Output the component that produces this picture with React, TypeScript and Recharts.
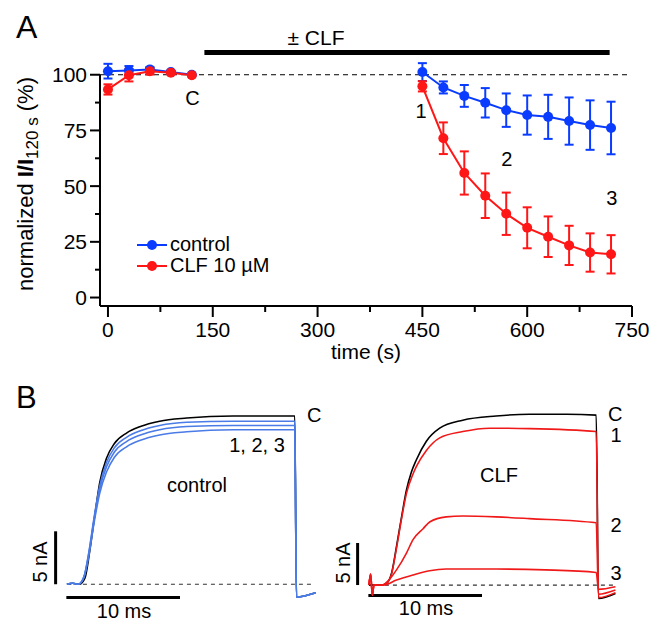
import { Legend, Line, LineChart, ReferenceDot, ReferenceLine, XAxis, YAxis, ErrorBar } from "recharts";

const FONT = "'Liberation Sans', Arial, Helvetica, sans-serif";
const BLUE = "#0a3cff";
const RED = "#ff1616";
const TRACE_BLUE = "#4a7be6";
const TRACE_RED = "#f01818";

// panel A: normalized current vs time (null row breaks the line between the two runs)
const seriesNames = ["control", "CLF 10 µM"];
const timeS = [0, 30, 60, 90, 120, 285, 450, 480, 510, 540, 570, 600, 630, 660, 690, 720];
const controlMean = [101.6, 101.9, 102.4, 101.2, 100, null, 101.2, 94.3, 90.5, 87.4, 84.1, 81.9, 81.1, 79.2, 77.4, 76.1];
const controlSem = [3.3, 2.0, 1.0, 0.6, 0, null, 4.0, 2.7, 4.9, 6.6, 7.5, 8.8, 9.9, 10.6, 11.1, 11.8];
const clfMean = [93.4, 99.8, 101.6, 100.9, 99.8, null, 94.8, 71.5, 55.9, 45.7, 37.6, 31.3, 27.3, 23.4, 20.2, 19.4];
const clfSem = [2.3, 2.8, 1.5, 0.6, 0, null, 2.3, 7.1, 9.7, 10.0, 9.5, 9.2, 9.1, 8.8, 8.6, 8.6];

const xTicks = [0, 75, 150, 225, 300, 375, 450, 525, 600, 675, 750];
const yTicks = [0, 12.5, 25, 37.5, 50, 62.5, 75, 87.5, 100];
const pointLabels = [
  { t: 121, v: 89.6, text: "C" },
  { t: 448, v: 83.7, text: "1" },
  { t: 571, v: 62.2, text: "2" },
  { t: 721, v: 44.9, text: "3" },
];

const rowsA = timeS.map((t, i) => ({
  t,
  control: controlMean[i],
  controlErr: controlSem[i],
  clf: clfMean[i],
  clfErr: clfSem[i],
}));

// panel B: current traces, [ms, nA]
const ctrlTraceC = [[0, 0], [0.5, 0.1], [1.1, 0], [1.6, 0.6], [2.0, 3.0], [2.45, 6.4], [2.9, 9.6], [3.5, 11.9], [4.2, 13.3], [5.3, 14.3], [6.5, 14.9], [8.2, 15.4], [10.6, 15.7], [14.7, 15.9], [20.15, 15.9], [20.3, -1.2], [22, -0.8]];
const ctrlTrace1 = [[0, 0], [0.5, 0.1], [1.0, 0], [1.5, 0.7], [1.95, 3.1], [2.4, 6.3], [2.9, 9.3], [3.5, 11.5], [4.2, 12.9], [5.3, 13.9], [6.5, 14.5], [8.2, 15.0], [10.6, 15.3], [14.7, 15.4], [20.15, 15.4], [20.3, -1.2], [22, -0.8]];
const ctrlTrace2 = [[0, 0], [0.5, 0.1], [1.0, 0], [1.5, 0.7], [1.95, 3.0], [2.4, 6.1], [2.9, 9.0], [3.5, 11.1], [4.2, 12.5], [5.3, 13.5], [6.5, 14.1], [8.2, 14.6], [10.6, 14.9], [14.7, 15.0], [20.15, 15.0], [20.3, -1.2], [22, -0.8]];
const ctrlTrace3 = [[0, 0], [0.5, 0.1], [1.0, 0], [1.5, 0.6], [1.95, 2.8], [2.4, 5.8], [2.9, 8.6], [3.5, 10.6], [4.2, 12.0], [5.3, 13.0], [6.5, 13.6], [8.2, 14.1], [10.6, 14.4], [14.7, 14.6], [20.15, 14.6], [20.3, -1.2], [22, -0.8]];

const clfTraceC = [[0, 0], [0.5, 0], [1.1, 0], [1.55, 0.2], [2.0, 1.4], [2.44, 4.6], [2.9, 8.2], [3.32, 11.3], [3.75, 13.4], [4.2, 14.9], [5.08, 17.1], [6.26, 18.65], [8.3, 19.6], [11.25, 20.1], [14.2, 20.3], [17.5, 20.3], [20.1, 20.2], [20.3, -1.6], [21.8, -1.0]];
const clfTrace1 = [[0, 0], [0.15, 1.3], [0.3, -1.2], [0.45, 0], [1.1, 0], [1.55, 0.2], [2.0, 1.3], [2.44, 4.4], [2.9, 8.0], [3.32, 10.9], [3.9, 13.2], [4.2, 14.1], [5.08, 16.0], [6.26, 17.5], [8.3, 18.25], [10.66, 18.65], [14.2, 18.6], [20.1, 18.25], [20.3, -1.5], [21.8, -0.9]];
const clfTrace2 = [[0, 0], [0.15, 1.3], [0.3, -1.2], [0.45, 0], [1.2, 0], [1.7, 0.5], [2.44, 1.8], [3.32, 3.8], [3.9, 5.4], [4.79, 6.7], [5.37, 7.5], [6.84, 8.1], [8.3, 8.2], [11.25, 8.1], [14.2, 7.9], [20.1, 7.4], [20.3, -1.1], [21.8, -0.6]];
const clfTrace3 = [[0, 0], [0.15, 1.3], [0.3, -1.2], [0.45, 0], [1.3, 0], [2.44, 0.6], [3.9, 1.2], [5.37, 1.7], [6.84, 1.9], [11.25, 1.9], [15.6, 1.8], [20.1, 1.5], [20.3, -0.5], [21.8, -0.2]];

const toPts = (arr: number[][]) => arr.map(([t, i]) => ({ t, i }));

function YTick(props: any) {
  const { x, y, payload } = props;
  const major = payload.value % 25 === 0;
  return (
    <g>
      <line x1={x - (major ? 10 : 5)} x2={x} y1={y} y2={y} stroke="#000" strokeWidth={2} />
      {major && (
        <text x={x - 13} y={y} dy="0.36em" textAnchor="end" fontSize={21} fontFamily={FONT} fill="#000">
          {payload.value}
        </text>
      )}
    </g>
  );
}

function XTick(props: any) {
  const { x, y, payload } = props;
  const major = payload.value % 150 === 0;
  return (
    <g>
      <line x1={x} x2={x} y1={y} y2={y + (major ? 11 : 6)} stroke="#000" strokeWidth={2} />
      {major && (
        <text x={x} y={y + 31} textAnchor="middle" fontSize={21} fontFamily={FONT} fill="#000">
          {payload.value}
        </text>
      )}
    </g>
  );
}

function LegendBox({ payload }: any) {
  const items = [...(payload || [])].sort((a: any, b: any) => seriesNames.indexOf(a.value) - seriesNames.indexOf(b.value));
  return (
    <div style={{ fontFamily: FONT, fontSize: 20, lineHeight: "21px", color: "#000" }}>
      {items.map((p: any) => (
        <div key={p.value} style={{ display: "flex", alignItems: "center", height: 21 }}>
          <svg width={32} height={12}>
            <line x1={1} x2={31} y1={6} y2={6} stroke={p.color} strokeWidth={2} />
            <circle cx={16} cy={6} r={5} fill={p.color} />
          </svg>
          <span style={{ marginLeft: 2 }}>{p.value}</span>
        </div>
      ))}
    </div>
  );
}

function TracePanel({ traces, yDomain, barY }: { traces: { data: number[][]; color: string }[]; yDomain: number[]; barY: number }) {
  return (
    <LineChart width={294} height={217} margin={{ top: 0, right: 0, bottom: 0, left: 0 }}>
      <XAxis type="number" dataKey="t" domain={[-3, 23]} hide />
      <YAxis type="number" domain={yDomain} hide />
      <ReferenceLine segment={[{ x: 0, y: 0 }, { x: 21.9, y: 0 }]} stroke="#333" strokeDasharray="4 4" strokeWidth={1.2} ifOverflow="visible" />
      <ReferenceLine segment={[{ x: -1, y: 0 }, { x: -1, y: 5 }]} stroke="#000" strokeWidth={3} ifOverflow="visible" />
      <ReferenceLine segment={[{ x: -0.05, y: barY }, { x: 10, y: barY }]} stroke="#000" strokeWidth={3} ifOverflow="visible" />
      {traces.map((tr, k) => (
        <Line
          key={k}
          data={toPts(tr.data)}
          dataKey="i"
          type="monotone"
          stroke={tr.color}
          strokeWidth={1.6}
          dot={false}
          isAnimationActive={false}
        />
      ))}
    </LineChart>
  );
}

export default function App() {
  return (
    <div style={{ position: "absolute", left: 0, top: 0, width: 652, height: 621, background: "#fff", fontFamily: FONT }}>
      <LineChart width={652} height={370} data={rowsA} margin={{ top: 48, right: 20, bottom: 8, left: 0 }}>
        <XAxis
          type="number"
          dataKey="t"
          domain={[-11.4, 750]}
          ticks={xTicks}
          interval={0}
          tickSize={0}
          tickMargin={0}
          tick={<XTick />}
          axisLine={{ stroke: "#000", strokeWidth: 2 }}
          height={56}
          label={{ value: "time (s)", position: "insideBottom", offset: 3, fontSize: 21, fill: "#000", fontFamily: FONT }}
        />
        <YAxis
          type="number"
          domain={[-3.8, 112]}
          ticks={yTicks}
          interval={0}
          tickSize={0}
          tickMargin={0}
          tick={<YTick />}
          axisLine={false}
          width={100}
        />
        <ReferenceLine segment={[{ x: -11.4, y: -3.8 }, { x: -11.4, y: 100 }]} stroke="#000" strokeWidth={2} ifOverflow="visible" />
        <ReferenceLine segment={[{ x: -11.4, y: 100 }, { x: 745, y: 100 }]} stroke="#000" strokeDasharray="5 4" strokeWidth={1} ifOverflow="visible" />
        <ReferenceLine segment={[{ x: 138, y: 110 }, { x: 718, y: 110 }]} stroke="#000" strokeWidth={5} ifOverflow="visible" />
        {pointLabels.map((p) => (
          <ReferenceDot
            key={p.text}
            x={p.t}
            y={p.v}
            r={0}
            fill="none"
            stroke="none"
            ifOverflow="visible"
            label={{ value: p.text, position: "center", fontSize: 20, fill: "#000", fontFamily: FONT }}
          />
        ))}
        <Legend
          layout="vertical"
          align="center"
          verticalAlign="middle"
          content={<LegendBox />}
          wrapperStyle={{ left: 136, top: 234, width: "auto", height: "auto" }}
        />
        <Line
          dataKey="control"
          name={seriesNames[0]}
          stroke={BLUE}
          strokeWidth={2}
          dot={{ r: 5, fill: BLUE, stroke: BLUE, strokeWidth: 0 }}
          isAnimationActive={false}
        >
          <ErrorBar dataKey="controlErr" direction="y" width={4.5} stroke={BLUE} strokeWidth={2} isAnimationActive={false} />
        </Line>
        <Line
          dataKey="clf"
          name={seriesNames[1]}
          stroke={RED}
          strokeWidth={2}
          dot={{ r: 5, fill: RED, stroke: RED, strokeWidth: 0 }}
          isAnimationActive={false}
        >
          <ErrorBar dataKey="clfErr" direction="y" width={4.5} stroke={RED} strokeWidth={2} isAnimationActive={false} />
        </Line>
      </LineChart>

      <div style={{ position: "absolute", left: 33, top: 399 }}>
        <TracePanel
          yDomain={[-3, 17.5]}
          barY={-1.25}
          traces={[
            { data: ctrlTraceC, color: "#000" },
            { data: ctrlTrace1, color: TRACE_BLUE },
            { data: ctrlTrace2, color: TRACE_BLUE },
            { data: ctrlTrace3, color: TRACE_BLUE },
          ]}
        />
      </div>
      <div style={{ position: "absolute", left: 335, top: 400 }}>
        <TracePanel
          yDomain={[-3.8, 22]}
          barY={-1.25}
          traces={[
            { data: clfTraceC, color: "#000" },
            { data: clfTrace1, color: TRACE_RED },
            { data: clfTrace2, color: TRACE_RED },
            { data: clfTrace3, color: TRACE_RED },
          ]}
        />
      </div>

      <svg width={652} height={621} style={{ position: "absolute", left: 0, top: 0, pointerEvents: "none" }} fontFamily={FONT} fill="#000">
        <text x={16} y={38} fontSize={32}>A</text>
        <text x={16} y={408} fontSize={31}>B</text>
        <text x={316} y={45} fontSize={21} textAnchor="middle">± CLF</text>
        <text transform="translate(33,184) rotate(-90)" textAnchor="middle" fontSize={22}>
          <tspan>normalized </tspan>
          <tspan fontWeight="bold">I/I</tspan>
          <tspan fontSize={17} dy={5}>120 s</tspan>
          <tspan dy={-5}> (%)</tspan>
        </text>
        <text x={307} y={422} fontSize={20}>C</text>
        <text x={257} y={452} fontSize={20} textAnchor="middle">1, 2, 3</text>
        <text x={197} y={492} fontSize={20} textAnchor="middle">control</text>
        <text transform="translate(47,562) rotate(-90)" textAnchor="middle" fontSize={20}>5 nA</text>
        <text x={124} y={618} fontSize={20} textAnchor="middle">10 ms</text>
        <text x={608} y={421} fontSize={20}>C</text>
        <text x={616} y={442} fontSize={20} textAnchor="middle">1</text>
        <text x={616} y={532} fontSize={20} textAnchor="middle">2</text>
        <text x={616} y={580} fontSize={20} textAnchor="middle">3</text>
        <text x={499} y={482} fontSize={20} textAnchor="middle">CLF</text>
        <text transform="translate(350,563) rotate(-90)" textAnchor="middle" fontSize={20}>5 nA</text>
        <text x={426} y={615} fontSize={20} textAnchor="middle">10 ms</text>
      </svg>
    </div>
  );
}
